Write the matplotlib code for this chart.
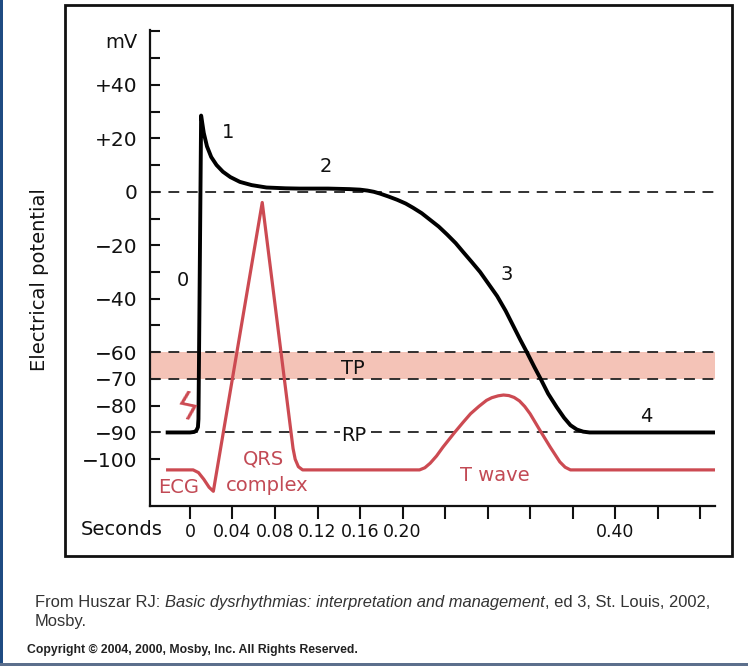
import matplotlib
matplotlib.use('Agg')
import matplotlib.pyplot as plt
import matplotlib.transforms as mtransforms
from matplotlib.patches import Rectangle

W, H = 748, 666

# ventricular action potential (black): seconds / mV
ap_t = [-0.021, 0.000, 0.004, 0.006, 0.0075, 0.008, 0.009, 0.0105, 0.013, 0.016,
        0.020, 0.025, 0.031, 0.038, 0.047, 0.058, 0.072, 0.090, 0.103, 0.130,
        0.150, 0.160, 0.167, 0.173, 0.179, 0.187, 0.195, 0.203, 0.210, 0.218,
        0.226, 0.234, 0.242, 0.250, 0.257, 0.265, 0.273, 0.281, 0.289, 0.297,
        0.304, 0.311, 0.317, 0.324, 0.330, 0.337, 0.345, 0.352, 0.358, 0.364,
        0.370, 0.376, 0.494]
ap_mv = [-90, -90, -89.8, -89.3, -88, -85, -40, 28.5, 22, 17,
         13, 10, 7.5, 5.5, 3.7, 2.5, 1.6, 1.3, 1.2, 1.2,
         1.0, 0.8, 0.45, 0.0, -0.7, -1.8, -3.0, -4.4, -6.0, -8.0,
         -10.5, -13, -16, -19.2, -22.5, -26.2, -30, -34.5, -39, -44.5,
         -50, -55.5, -60, -65.5, -70, -75.5, -80.5, -84.5, -87.3, -88.9,
         -89.7, -90, -90]

# surface ECG (red), same axes
ecg_t = [-0.021, 0.003, 0.008, 0.013, 0.018, 0.022, 0.068, 0.097, 0.099, 0.102,
         0.106, 0.115, 0.216, 0.221, 0.226, 0.232, 0.238, 0.249, 0.257, 0.264,
         0.272, 0.279, 0.284, 0.290, 0.295, 0.300, 0.305, 0.310, 0.315, 0.320,
         0.329, 0.339, 0.348, 0.353, 0.358, 0.494]
ecg_mv = [-104, -104, -105, -107.5, -110.5, -112, -4, -96, -100, -102.8,
          -104, -104, -104, -103.2, -101.5, -98.8, -95.5, -90, -86.2, -83,
          -80.2, -78, -77, -76.3, -76, -76.2, -76.9, -78.2, -80.3, -83,
          -89, -95.5, -101, -103, -104, -104]

dashed_levels = [0, -60, -70, -90]
tp_band = (-70, -60)

y_ticks = [60, 50, 40, 30, 20, 10, 0, -10, -20, -30, -40, -50, -60, -70, -80, -90, -100]
y_labels = ['', '', '+40', '', '+20', '', '0', '', '\u221220', '', '\u221240', '',
            '\u221260', '\u221270', '\u221280', '\u221290', '\u2212100']
x_ticks = [0, 0.04, 0.08, 0.12, 0.16, 0.20, 0.24, 0.28, 0.32, 0.36, 0.40, 0.44, 0.48]
x_labels = ['0', '0.04', '0.08', '0.12', '0.16', '0.20', '', '', '', '', '0.40', '', '']

RED = '#cc4a52'
RED_TXT = '#c24a55'
BAND = '#f4c3b7'

plt.rcParams['font.family'] = ['DejaVu Sans']

fig = plt.figure(figsize=(W / 100, H / 100), dpi=100)
fig.patch.set_facecolor('white')

ax = fig.add_axes([150 / W, 1 - 506 / H, 565 / W, 476 / H])
ax.set_xlim(-0.0376, 0.494)
ax.set_ylim(-117.5, 60.5)
ax.patch.set_alpha(0)

ax.axhspan(tp_band[0], tp_band[1], color=BAND, lw=0, zorder=1)
for lvl in dashed_levels:
    ax.axhline(lvl, color='#222222', lw=1.3, ls=(0, (6, 4.2)), zorder=2)

ax.plot(ecg_t, ecg_mv, color=RED, lw=2.3, zorder=3, solid_joinstyle='round')
ax.plot(ap_t, ap_mv, color='black', lw=2.8, zorder=4, solid_joinstyle='round')

for side in ['top', 'right']:
    ax.spines[side].set_visible(False)
for side in ['left', 'bottom']:
    ax.spines[side].set_linewidth(1.6)
    ax.spines[side].set_color('#111111')

ax.set_yticks(y_ticks)
ax.set_yticklabels(y_labels)
ax.tick_params(axis='y', direction='in', length=7.5, width=1.5, pad=9,
               labelsize=14.5, colors='#111111')
ax.set_xticks(x_ticks)
ax.set_xticklabels(x_labels)
ax.tick_params(axis='x', direction='out', length=9.5, width=1.5, pad=3,
               labelsize=12.5, colors='#111111')

ylab = mtransforms.blended_transform_factory(ax.transAxes, ax.transData)
ax.text(-0.023, 55.8, 'mV', transform=ylab, ha='right', va='center',
        fontsize=14, color='#111111')
ax.text(0.023, -0.05, 'Seconds', transform=ax.transAxes, ha='right', va='center',
        fontsize=14, color='#111111')
fig.text(40 / W, 1 - 280 / H, 'Electrical potential', rotation=90,
         ha='center', va='center', fontsize=14, color='#111111')

# phase numbers and labels
for s, tx, ty in [('0', -0.0066, -33), ('1', 0.036, 22), ('2', 0.128, 9.4),
                  ('3', 0.298, -31), ('4', 0.429, -84), ('TP', 0.153, -66)]:
    ax.text(tx, ty, s, ha='center', va='center', fontsize=14, color='#111111', zorder=5)
ax.text(0.154, -91, 'RP', ha='center', va='center', fontsize=14, color='#111111',
        zorder=5, bbox=dict(facecolor='white', edgecolor='none', pad=0.5))
ax.text(0.069, -100, 'QRS', ha='center', va='center', fontsize=14, color=RED_TXT, zorder=5)
ax.text(0.073, -110, 'complex', ha='center', va='center', fontsize=14, color=RED_TXT, zorder=5)
ax.text(-0.011, -110.5, 'ECG', ha='center', va='center', fontsize=14, color=RED_TXT, zorder=5)
ax.text(0.287, -106, 'T wave', ha='center', va='center', fontsize=14, color=RED_TXT, zorder=5)
ax.text(-0.003, -81.5, '\u03df', ha='center', va='center', fontsize=27, color=RED,
        rotation=-12, zorder=5)

# frame around the figure
fig.patches.append(Rectangle((65 / W, 1 - 556 / H), 667 / W, 551 / H,
                             transform=fig.transFigure, fill=False,
                             edgecolor='#111111', lw=2.0))
# page edges
fig.patches.append(Rectangle((0, 0), 3 / W, 1, transform=fig.transFigure,
                             color='#1f4b82', lw=0))
fig.patches.append(Rectangle((0, 0), 1, 3 / H, transform=fig.transFigure,
                             color='#5c6f8c', lw=0))

# source caption
fig.canvas.draw()
rend = fig.canvas.get_renderer()
cap_parts = [('From Huszar RJ: ', 'normal'),
             ('Basic dysrhythmias: interpretation and management', 'italic'),
             (', ed 3, St. Louis, 2002,', 'normal')]
x = 35 / W
for s, st in cap_parts:
    t = fig.text(x, 1 - 607 / H, s, style=st, fontsize=11.9, family='Liberation Sans',
                 color='#333333', va='baseline')
    x += t.get_window_extent(rend).width / W
fig.text(35 / W, 1 - 626 / H, 'Mosby.', fontsize=11.9, family='Liberation Sans',
         color='#333333', va='baseline')
fig.text(27 / W, 1 - 653 / H, 'Copyright \u00a9 2004, 2000, Mosby, Inc. All Rights Reserved.',
         fontsize=8.8, family='Liberation Sans', weight='bold', color='#222222',
         va='baseline')

fig.savefig('out.png', dpi=100)
